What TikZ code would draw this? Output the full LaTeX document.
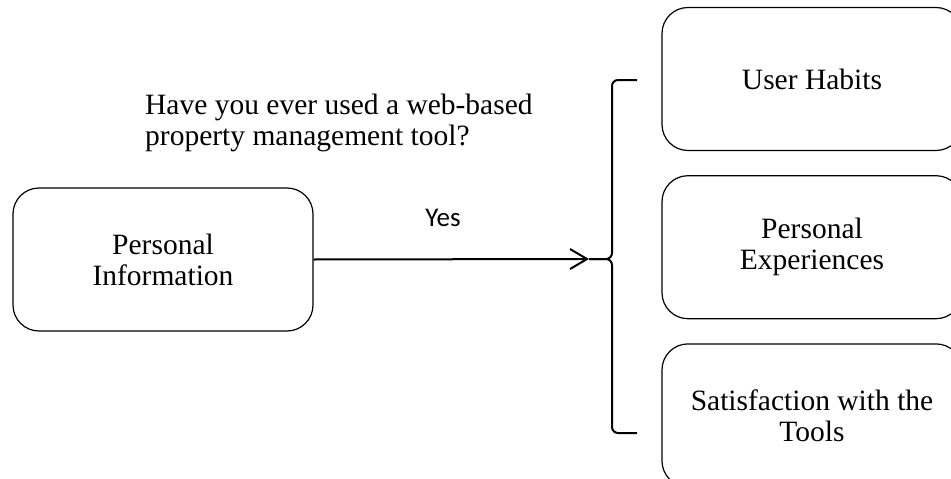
\documentclass[tikz,border=0pt]{standalone}
\usepackage{fontspec}
\setmainfont{Liberation Serif}
\newfontfamily\yesfont{Carlito}
\usepackage{tikz}
\usetikzlibrary{arrows.meta, positioning}
\tikzset{
  infobox/.style={rectangle, rounded corners=26pt, draw=black, line width=1.2pt, minimum width=300pt, minimum height=143pt, font=\fontsize{29.5pt}{31pt}\selectfont, align=center},
  topicbox/.style={infobox},
  questiontext/.style={inner sep=0pt, font=\fontsize{29.5pt}{31pt}\selectfont, align=left},
  answertext/.style={inner sep=0pt, font=\yesfont\fontsize{27pt}{32pt}\selectfont},
  arrow/.style={-{Straight Barb[length=17pt, width=20pt, line width=2pt]}, line width=2pt},
  bracket/.style={line width=2pt, rounded corners=6pt}
}
\begin{document}
\begin{tikzpicture}[x=1pt, y=-1pt]
  \useasboundingbox (0,0) rectangle (951,479);
  \clip (0,0) rectangle (951,479);

  \node[infobox] (info) at (163,259.5) {Personal\\Information};
  \node[questiontext, anchor=north west] (question) at (145,94) {Have you ever used a web-based\\property management tool?};

  \node[topicbox] (habits) at (812,79) {User Habits};
  \node[topicbox, below=24pt of habits] (experience) {Personal\\Experiences};
  \node[topicbox, below=24pt of experience] (satisfaction) {Satisfaction with the\\Tools};

  \coordinate (bracetop) at (637,80);
  \coordinate (bracebot) at (637,433);
  \coordinate (bracetip) at (589,259);

  \draw[arrow] (info.east) -- node[answertext, above=32pt, pos=0.47] {Yes} (bracetip);
  \draw[bracket] (bracetop) -- ++(-25,0) |- (bracetip);
  \draw[bracket] (bracebot) -- ++(-25,0) |- (bracetip);
\end{tikzpicture}
\end{document}
